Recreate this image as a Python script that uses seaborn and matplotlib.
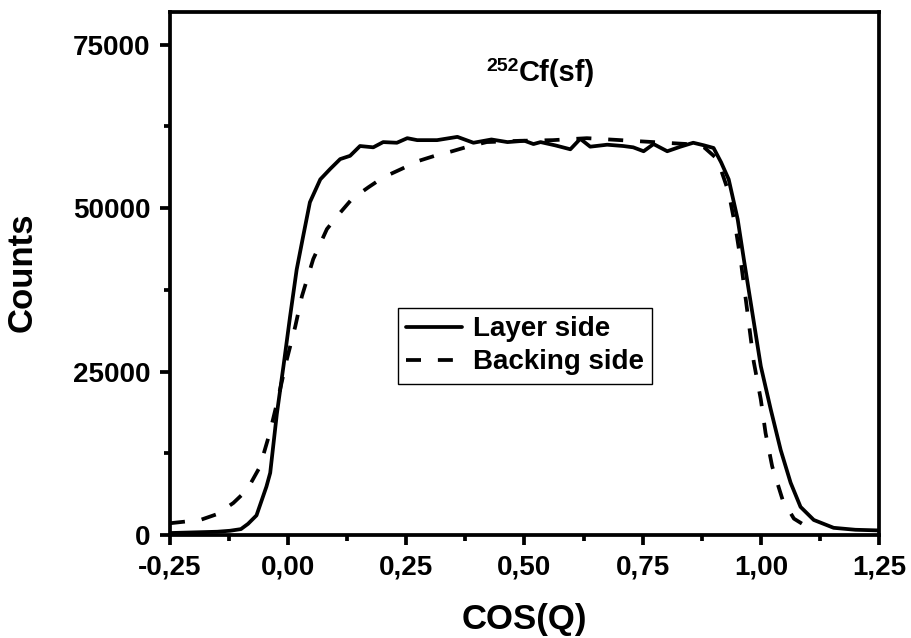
import numpy as np
import pandas as pd
import seaborn as sns
import matplotlib
matplotlib.use("Agg")
import matplotlib.pyplot as plt
from matplotlib.ticker import MultipleLocator, FuncFormatter

# ---- data ----
layer_x = [-0.25, -0.20, -0.15, -0.123, -0.10, -0.085, -0.067, -0.046, -0.038, -0.024,
           -0.01, 0.004, 0.018, 0.032, 0.046, 0.068, 0.089, 0.11, 0.131, 0.152,
           0.18, 0.201, 0.23, 0.252, 0.273, 0.315, 0.358, 0.392, 0.43, 0.464,
           0.50, 0.519, 0.534, 0.565, 0.597, 0.618, 0.639, 0.675, 0.709, 0.73,
           0.752, 0.773, 0.802, 0.83, 0.857, 0.88, 0.90, 0.916, 0.932, 0.951,
           0.964, 0.982, 1.0, 1.021, 1.042, 1.063, 1.084, 1.112, 1.154, 1.20, 1.25]
layer_y = [300, 400, 500, 650, 900, 1700, 3000, 7400, 9500, 18500,
           25800, 33400, 40600, 45800, 50900, 54400, 56000, 57500, 58000, 59500,
           59300, 60100, 60000, 60700, 60400, 60400, 60900, 60000, 60500, 60100,
           60300, 59800, 60100, 59600, 59000, 60600, 59400, 59700, 59500, 59300,
           58700, 59800, 58700, 59400, 60000, 59600, 59200, 57000, 54400, 48300,
           42200, 34000, 25800, 19200, 13000, 8000, 4300, 2300, 1100, 800, 700]

backing_x = [-0.25, -0.186, -0.15, -0.116, -0.087, -0.06, -0.039, -0.022, -0.003, 0.015,
             0.029, 0.053, 0.082, 0.11, 0.135, 0.17, 0.201, 0.24, 0.275, 0.31,
             0.347, 0.38, 0.42, 0.49, 0.56, 0.632, 0.703, 0.773, 0.845, 0.88,
             0.908, 0.932, 0.947, 0.958, 0.97, 0.985, 1.0, 1.01, 1.024, 1.046,
             1.07, 1.099, 1.115]
backing_y = [1800, 2300, 3200, 4900, 6900, 10400, 15600, 20700, 26800, 31900,
             36500, 42200, 46800, 49300, 51400, 53200, 54700, 56000, 57200, 58000,
             58700, 59400, 60100, 60300, 60400, 60700, 60400, 60100, 59800, 59300,
             57500, 52400, 46800, 41700, 35000, 26500, 20700, 15600, 10500, 5400,
             2500, 1200, 500]

series_names = ["Layer side", "Backing side"]
x_ticks = [-0.25, 0.0, 0.25, 0.5, 0.75, 1.0, 1.25]
y_ticks = [0, 25000, 50000, 75000]

# ---- style ----
sns.set_theme(style="ticks")
plt.rcParams['font.family'] = ['Liberation Sans', 'DejaVu Sans']
plt.rcParams['font.weight'] = 'bold'
for key in ["text.color", "axes.labelcolor", "xtick.color", "ytick.color",
            "axes.edgecolor"]:
    plt.rcParams[key] = "black"

LW = 2.7

fig = plt.figure(figsize=(9.12, 6.38), dpi=100)
ax = fig.add_axes([170 / 912, 1 - 535 / 638, 709 / 912, 523 / 638])

df_layer = pd.DataFrame({"x": layer_x, "y": layer_y})
df_back = pd.DataFrame({"x": backing_x, "y": backing_y})

sns.lineplot(data=df_layer, x="x", y="y", ax=ax, color="black", linewidth=LW,
             label=series_names[0], sort=True)
sns.lineplot(data=df_back, x="x", y="y", ax=ax, color="black", linewidth=LW,
             label=series_names[1], sort=True)
for line in ax.get_lines():
    if line.get_label() == series_names[1]:
        line.set_linestyle((0, (4.0, 4.5)))

ax.set_xlim(-0.25, 1.25)
ax.set_ylim(0, 80000)
ax.set_xticks(x_ticks)
ax.set_yticks(y_ticks)
ax.xaxis.set_minor_locator(MultipleLocator(0.125))
ax.yaxis.set_minor_locator(MultipleLocator(12500))
ax.xaxis.set_major_formatter(FuncFormatter(lambda v, p: f"{v:.2f}".replace(".", ",")))
ax.yaxis.set_major_formatter(FuncFormatter(lambda v, p: f"{int(round(v))}"))

ax.tick_params(which="major", direction="out", length=7, width=LW,
               labelsize=20, pad=7, colors="black", bottom=True, left=True)
ax.tick_params(which="minor", direction="out", length=4, width=LW,
               colors="black", bottom=True, left=True)
for lab in ax.get_xticklabels() + ax.get_yticklabels():
    lab.set_fontweight("bold")

for s in ax.spines.values():
    s.set_visible(True)
    s.set_linewidth(LW)
    s.set_color("black")

ax.set_xlabel("")
ax.set_ylabel("")
fig.text(524 / 912, 1 - 620 / 638, "COS(Q)", ha="center", va="center",
         fontsize=25, fontweight="bold", color="black")
fig.text(22 / 912, 1 - 272 / 638, "Counts", ha="center", va="center",
         rotation=90, fontsize=25, fontweight="bold", color="black")

ax.text(0.4877, 69500, "Cf(sf)", fontsize=21, fontweight="bold",
        ha="left", va="baseline", color="black")
ax.text(0.4877, 71000, "252", fontsize=14, fontweight="bold",
        ha="right", va="baseline", color="black")

leg = ax.legend(loc="upper left", bbox_to_anchor=(0.3216, 0.434),
                borderaxespad=0, fontsize=20, frameon=True, fancybox=False,
                edgecolor="black", framealpha=1, handlelength=2.0,
                handletextpad=0.4, labelspacing=0.25, borderpad=0.3)
leg.get_frame().set_linewidth(1.0)
for t in leg.get_texts():
    t.set_fontweight("bold")
    t.set_color("black")

fig.savefig("out.png", dpi=100)
